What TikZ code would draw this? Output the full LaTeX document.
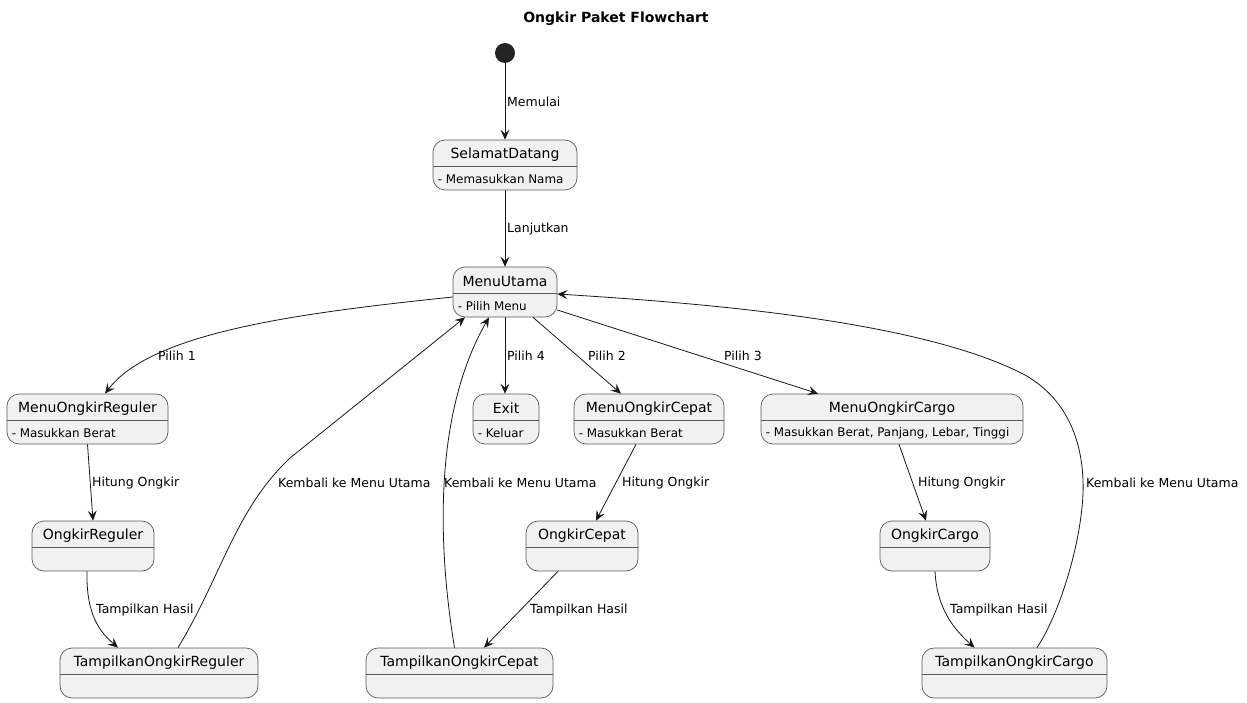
\documentclass[tikz,border=0pt]{standalone}
\usepackage{fontspec}
\setmainfont{DejaVu Sans}
\usetikzlibrary{arrows.meta}
\definecolor{boxfill}{HTML}{F1F1F1}
\definecolor{boxline}{HTML}{5A5A5A}
\definecolor{lineclr}{HTML}{181818}
\tikzset{
  stbox/.style={draw=boxline, fill=boxfill, rounded corners=12pt, line width=0.7pt, inner sep=0pt},
  stsep/.style={draw=boxline, line width=0.7pt},
  sttitle/.style={font=\fontsize{14}{16}\selectfont, inner sep=0pt},
  stdesc/.style={font=\fontsize{11.9}{14}\selectfont, inner xsep=5pt, inner ysep=0pt, anchor=west},
  lbl/.style={font=\fontsize{12.5}{15}\selectfont, inner sep=0pt, anchor=west},
  arr/.style={draw=lineclr, line width=0.8pt, -{Stealth[length=10pt, width=9pt, inset=4pt]}},
}
\newcommand\mkstate[6]{%
  \node[stbox, minimum width={(#4-#2)*1pt}, minimum height=50pt] (#1) at ({(#2+#4)/2},{#3+25}) {};
  \draw[stsep] ([yshift=-1pt]#1.west) -- ([yshift=-1pt]#1.east);
  \node[sttitle] at ([yshift=10.5pt]#1.center) {#5};
  \node[stdesc] at ([yshift=-14.5pt]#1.west) {#6};
}
\begin{document}
\begin{tikzpicture}[x=1pt, y=-1pt]
\useasboundingbox (0,0) rectangle (1247,703);
\node[font=\bfseries\fontsize{14}{16}\selectfont, inner sep=0pt] (title) at (616,18.5) {Ongkir Paket Flowchart};
\node[circle, fill=lineclr!95!white, minimum size=20pt, inner sep=0pt] (start) at (505,53) {};
\mkstate{selamat}{433}{140}{577}{SelamatDatang}{- Memasukkan Nama}
\mkstate{menu}{453}{267}{557}{MenuUtama}{- Pilih Menu}
\mkstate{reg}{7}{394}{168}{MenuOngkirReguler}{- Masukkan Berat}
\mkstate{exit}{473}{394}{539}{Exit}{- Keluar}
\mkstate{cep}{574}{394}{724}{MenuOngkirCepat}{- Masukkan Berat}
\mkstate{cargo}{761}{394}{1023}{MenuOngkirCargo}{- Masukkan Berat, Panjang, Lebar, Tinggi}
\mkstate{oreg}{32}{521}{154}{OngkirReguler}{}
\mkstate{ocep}{526}{521}{638}{OngkirCepat}{}
\mkstate{ocargo}{880}{521}{990}{OngkirCargo}{}
\mkstate{treg}{60}{648}{258}{TampilkanOngkirReguler}{}
\mkstate{tcep}{366}{648}{553}{TampilkanOngkirCepat}{}
\mkstate{tcargo}{922}{648}{1107}{TampilkanOngkirCargo}{}

% connectors
\draw[arr] (start.south) -- (selamat.north);
\node[lbl] at (507,102) {Memulai};
\draw[arr] (selamat.south) -- (menu.north);
\node[lbl] at (507,229) {Lanjutkan};

\draw[arr] ([yshift=-5pt]menu.west) .. controls (300,313) and (152,332) .. ([xshift=17.5pt]reg.north);
\node[lbl] at (158,356) {Pilih 1};
\draw[arr] (menu.south) -- (menu.south |- exit.north);
\node[lbl] at (507,356) {Pilih 4};
\draw[arr] ([xshift=28pt]menu.south) -- ([xshift=-28pt]cep.north);
\node[lbl] at (588,356) {Pilih 2};
\draw[arr] ([yshift=-18pt]menu.east) -- ([xshift=-74pt]cargo.north);
\node[lbl] at (724,356) {Pilih 3};

\draw[arr] (reg.south) -- (oreg.north);
\node[lbl] at (92,483) {Hitung Ongkir};
\draw[arr] ([xshift=-6pt]oreg.south) .. controls (86,615) and (100,632) .. ([xshift=-41pt]treg.north);
\node[lbl] at (96,610) {Tampilkan Hasil};
\draw[arr] ([xshift=19pt]treg.north) .. controls (222,575) and (235,510) .. (290,458) -- ([xshift=-40pt]menu.south);
\node[lbl] at (278,483) {Kembali ke Menu Utama};

\draw[arr] ([xshift=-5pt]tcep.north) .. controls (440,560) and (430,420) .. ([xshift=-16pt]menu.south);
\node[lbl] at (444,483) {Kembali ke Menu Utama};
\draw[arr] ([xshift=-13pt]cep.south) -- ([xshift=14pt]ocep.north);
\node[lbl] at (622,483) {Hitung Ongkir};
\draw[arr] ([xshift=-24pt]ocep.south) -- ([xshift=24.5pt]tcep.north);
\node[lbl] at (530,610) {Tampilkan Hasil};

\draw[arr] ([xshift=7pt]cargo.south) -- ([xshift=-9pt]ocargo.north);
\node[lbl] at (918,483) {Hitung Ongkir};
\draw[arr] (ocargo.south) .. controls (937,610) and (955,630) .. ([xshift=-40pt]tcargo.north);
\node[lbl] at (950,610) {Tampilkan Hasil};
\draw[arr] ([xshift=22.5pt]tcargo.north) .. controls (1062,610) and (1085,530) .. (1083,480)
   .. controls (1081,430) and (1060,395) .. (1025,375)
   .. controls (920,320) and (700,303) .. ([yshift=-2pt]menu.east);
\node[lbl] at (1086,483) {Kembali ke Menu Utama};
\end{tikzpicture}
\end{document}
